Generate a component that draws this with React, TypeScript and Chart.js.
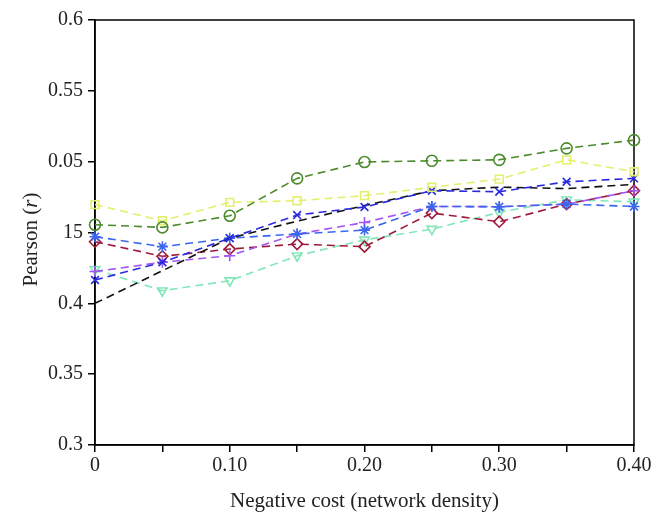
import { useEffect, useRef } from 'react';
import { Chart, registerables } from 'chart.js';

Chart.register(...registerables);

const xValues = [0, 0.05, 0.1, 0.15, 0.2, 0.25, 0.3, 0.35, 0.4];
const xTickLabels = ['0', '', '0.10', '', '0.20', '', '0.30', '', '0.40'];
const yTickLabels = ['0.3', '0.35', '0.4', '15', '0.05', '0.55', '0.6'];

const greenCircle = [0.4555, 0.4536, 0.4618, 0.4882, 0.4998, 0.5006, 0.5013, 0.5094, 0.5152];
const yellowSquare = [0.4697, 0.4583, 0.4713, 0.4724, 0.476, 0.4819, 0.4877, 0.5013, 0.4929];
const blueCross = [0.4165, 0.429, 0.446, 0.4623, 0.468, 0.4795, 0.4788, 0.4858, 0.4882];
const blackLine = [0.4, 0.423, 0.446, 0.458, 0.469, 0.4795, 0.482, 0.481, 0.484];
const blueStar = [0.447, 0.44, 0.446, 0.449, 0.4517, 0.4684, 0.4682, 0.47, 0.4684];
const purplePlus = [0.4225, 0.429, 0.4336, 0.4489, 0.4571, 0.4684, 0.4682, 0.47, 0.4795];
const redDiamond = [0.4435, 0.4332, 0.4383, 0.4418, 0.44, 0.4637, 0.4576, 0.47, 0.4795];
const cyanTriangle = [0.424, 0.4089, 0.416, 0.4336, 0.4448, 0.4524, 0.4642, 0.4731, 0.4717];

const FONT = "'Liberation Serif', 'DejaVu Serif', serif";

function toPoints(arr: number[]) {
  return xValues.map((x, i) => ({ x, y: arr[i] }));
}

function ds(label: string, arr: number[], color: string, pointStyle: any, extra: any = {}) {
  return {
    label,
    data: toPoints(arr),
    borderColor: color,
    backgroundColor: 'transparent',
    pointBorderColor: color,
    pointBackgroundColor: 'transparent',
    pointStyle,
    pointRadius: 5.5,
    pointBorderWidth: 1.6,
    borderWidth: 1.6,
    borderDash: [8, 5],
    tension: 0,
    clip: false,
    ...extra,
  };
}

const framePlugin = {
  id: 'frame',
  beforeDatasetsDraw(chart: any) {
    const { ctx, chartArea } = chart;
    ctx.save();
    ctx.strokeStyle = '#000';
    ctx.lineWidth = 1.5;
    ctx.strokeRect(chartArea.left, chartArea.top, chartArea.right - chartArea.left, chartArea.bottom - chartArea.top);
    ctx.restore();
  },
  afterDraw(chart: any) {
    const { ctx, chartArea } = chart;
    ctx.save();
    ctx.fillStyle = '#222';
    ctx.textBaseline = 'middle';
    const cy = (chartArea.top + chartArea.bottom) / 2 + 7;
    ctx.translate(31, cy);
    ctx.rotate(-Math.PI / 2);
    const parts = [
      { t: 'Pearson (', f: `21px ${FONT}` },
      { t: 'r', f: `italic 21px ${FONT}` },
      { t: ')', f: `21px ${FONT}` },
    ];
    let total = 0;
    parts.forEach((p) => {
      ctx.font = p.f;
      total += ctx.measureText(p.t).width;
    });
    let x = -total / 2;
    ctx.textAlign = 'left';
    parts.forEach((p) => {
      ctx.font = p.f;
      ctx.fillText(p.t, x, 0);
      x += ctx.measureText(p.t).width;
    });
    ctx.restore();
  },
};

export default function App() {
  const ref = useRef<HTMLCanvasElement | null>(null);

  useEffect(() => {
    if (!ref.current) return;
    const chart = new Chart(ref.current, {
      type: 'line',
      data: {
        datasets: [
          ds('Green', greenCircle, '#4c8a2c', 'circle'),
          ds('Yellow', yellowSquare, '#e4ef6e', 'rect'),
          ds('Blue x', blueCross, '#2a2ae0', 'crossRot'),
          ds('Black', blackLine, '#111111', false, { pointRadius: 0 }),
          ds('Blue star', blueStar, '#3a66f0', 'star'),
          ds('Purple', purplePlus, '#a455f2', 'cross'),
          ds('Red', redDiamond, '#9e1a3a', 'rectRot'),
          ds('Cyan', cyanTriangle, '#82e6b8', 'triangle', { pointRotation: 180 }),
        ],
      },
      options: {
        responsive: false,
        animation: false,
        devicePixelRatio: 1,
        layout: { padding: { top: 20, right: 32, left: 0, bottom: 0 } },
        plugins: {
          legend: { display: false },
          tooltip: { enabled: false },
        },
        events: [],
        scales: {
          x: {
            type: 'linear',
            min: 0,
            max: 0.4,
            afterFit: (s: any) => {
              s.height = 82;
            },
            ticks: {
              stepSize: 0.05,
              autoSkip: false,
              maxRotation: 0,
              color: '#222',
              font: { family: FONT, size: 20 },
              padding: 2,
              callback: (_v: any, i: number) => xTickLabels[i] ?? '',
            },
            grid: { drawOnChartArea: false, drawTicks: true, tickLength: 7, color: '#000', lineWidth: 1.5 },
            border: { display: true, color: '#000', width: 1.5 },
            title: {
              display: true,
              text: 'Negative cost (network density)',
              color: '#222',
              font: { family: FONT, size: 21 },
              padding: { top: 0, bottom: 13 },
            },
          },
          y: {
            type: 'linear',
            min: 0.3,
            max: 0.6,
            afterFit: (s: any) => {
              s.width = 95;
            },
            ticks: {
              stepSize: 0.05,
              autoSkip: false,
              color: '#222',
              font: { family: FONT, size: 20 },
              padding: 5,
              callback: (_v: any, i: number) => yTickLabels[i] ?? '',
            },
            grid: { drawOnChartArea: false, drawTicks: true, tickLength: 7, color: '#000', lineWidth: 1.5 },
            border: { display: true, color: '#000', width: 1.5 },
          },
        },
      },
      plugins: [framePlugin],
    });
    return () => chart.destroy();
  }, []);

  return (
    <div style={{ position: 'absolute', left: 0, top: 0, width: 666, height: 527, background: '#fff' }}>
      <canvas ref={ref} width={666} height={527} style={{ width: 666, height: 527 }} />
    </div>
  );
}
